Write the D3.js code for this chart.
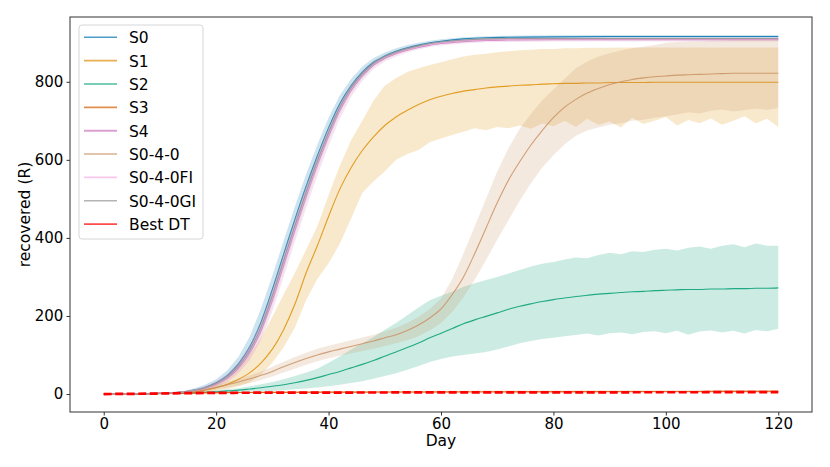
<!DOCTYPE html>
<html lang="en">
<head>
<meta charset="UTF-8">
<title>recovered (R)</title>
<script src="https://d3js.org/d3.v7.min.js"></script>
<style>
    body { margin: 0; background: #fff; }
    text { font-family: "DejaVu Sans", sans-serif; fill: #000; }
    .tick text { font-size: 15px; }
    .axis-label { font-size: 15.5px; }
    .legend text { font-size: 15.5px; }
</style>
</head>
<body>
<div id="chart"></div>
<script>
// day grids
const days = [0, 2, 4, 6, 8, 10, 12, 14, 16, 18, 20, 22, 24, 26, 28, 30, 32, 34, 36, 38,
    40, 42, 44, 46, 48, 50, 52, 54, 56, 58, 60, 62, 64, 66, 68, 70, 72, 74, 76, 78,
    80, 82, 84, 86, 88, 90, 92, 94, 96, 98, 100, 102, 104, 106, 108, 110, 112, 114, 116, 118, 120];
const daysS = [0, 4, 8, 10, 12, 14, 16, 18, 20, 22, 24, 26, 28, 30, 32, 34, 36, 38, 40, 42,
    44, 46, 48, 50, 52, 54, 56, 58, 60, 64, 68, 72, 80, 90, 100, 110, 120];
const daysLow = [0, 4, 8, 12, 16, 20, 30, 40, 50, 60, 70, 80, 90, 100, 110, 120];

const xTicks = [0, 20, 40, 60, 80, 100, 120];
const yTicks = [0, 200, 400, 600, 800];

// S0
const s0Mean = [0, 0.5, 1.2, 2, 3, 5, 10, 17, 29, 48, 78, 122, 185, 268, 358, 447, 532, 610, 682, 744,
    790, 825, 850, 866, 878, 887, 894, 900, 904, 910, 913, 914, 915, 916, 916, 916, 916];
const s0Lo = [0, 0.3, 0.8, 1.4, 2, 3.5, 7, 12, 23, 40, 68, 108, 167, 246, 336, 425, 510, 590, 664, 730,
    778, 815, 842, 859, 872, 882, 890, 896, 900, 906, 909, 910, 911, 912, 912, 912, 912];
const s0Hi = [0, 0.7, 1.6, 2.6, 4, 7, 14, 24, 38, 61, 96, 148, 220, 303, 392, 480, 563, 639, 708, 765,
    807, 839, 861, 875, 886, 894, 900, 905, 909, 914, 917, 918, 919, 920, 920, 920, 920];

// S1
const s1Mean = [0, 0.2, 0.5, 0.8, 1.2, 1.8, 2.5, 4, 6, 10,
    16, 25, 38, 55, 80, 115, 165, 230, 310, 380,
    455, 525, 580, 624, 659, 688, 710, 727, 742, 754,
    763, 770, 776, 780, 784, 787, 789, 791, 792, 794,
    795, 796, 796, 797, 797, 798, 798, 798, 798, 799,
    799, 799, 799, 799, 799, 799, 799, 799, 799, 799, 799];
const s1Lo = [0, 0.1, 0.2, 0.4, 0.6, 1, 1.4, 2, 3, 5,
    8, 13, 20, 30, 50, 80, 120, 170, 240, 295,
    335, 385, 450, 515, 545, 570, 600, 615, 625, 645,
    655, 664, 672, 681, 676, 684, 681, 688, 680, 693,
    686, 700, 684, 705, 690, 698, 683, 708, 692, 700,
    710, 688, 702, 694, 706, 690, 700, 712, 694, 705, 684];
const s1Hi = [0, 0.3, 0.8, 1.2, 1.8, 2.6, 3.6, 6, 10, 16,
    26, 42, 66, 100, 145, 198, 255, 310, 370, 430,
    510, 585, 650, 700, 752, 790, 810, 825, 835, 843,
    850, 858, 865, 869, 872, 876, 878, 881, 882, 884,
    884, 886, 886, 887, 887, 887, 888, 888, 888, 888,
    888, 888, 888, 888, 888, 888, 888, 888, 888, 888, 888];

// S2
const s2Mean = [0, 0.1, 0.3, 0.5, 0.8, 1, 1.5, 2, 3, 4.5,
    6, 8, 10, 13, 16, 20, 24, 29, 35, 42,
    50, 58, 67, 76, 86, 97, 108, 119, 131, 144,
    156, 168, 180, 190, 199, 208, 217, 225, 231, 237,
    242, 246, 250, 253, 256, 258, 260, 262, 263, 265,
    266, 267, 268, 268, 269, 269, 270, 270, 271, 271, 272];
const s2Lo = [0, 0, 0.1, 0.2, 0.4, 0.5, 0.8, 1, 1.5, 2,
    3, 4, 5, 6, 7, 8, 10, 12, 14, 17,
    20, 24, 28, 33, 39, 46, 53, 62, 72, 82,
    90, 96, 100, 104, 108, 114, 122, 130, 136, 141,
    144, 148, 151, 155, 150, 156, 158, 153, 159, 161,
    156, 162, 152, 160, 163, 158, 162, 155, 164, 161, 167];
const s2Hi = [0, 0.2, 0.5, 0.8, 1.2, 1.6, 2.2, 3, 4.5, 7,
    9, 12, 15, 20, 25, 31, 38, 46, 55, 65,
    80, 96, 114, 130, 146, 165, 182, 202, 222, 240,
    252, 262, 275, 284, 292, 300, 309, 318, 327, 334,
    338, 345, 350, 348, 356, 362, 358, 366, 364, 370,
    372, 368, 375, 378, 372, 380, 384, 376, 386, 380, 380];

// S3
const s3Mean = [0, 0.5, 1.2, 2.2, 3, 3.6, 4.3, 4.8, 5.2, 5.6, 6, 6.2, 6.4, 6.6, 6.8, 7];
const s3Lo = [0, 0.2, 0.6, 1.2, 1.8, 2.2, 2.8, 3.2, 3.5, 3.8, 4, 4.2, 4.3, 4.4, 4.5, 4.6];
const s3Hi = [0, 0.8, 1.8, 3.2, 4.4, 5.2, 6.3, 7.2, 7.8, 8.4, 9, 9.4, 9.7, 10, 10.2, 10.4];

// S4
const s4Mean = [0, 0.5, 1.2, 2, 3, 4.5, 8.5, 15, 25, 41, 67, 106, 163, 240, 330, 420, 506, 587, 661, 727,
    778, 815, 843, 860, 872, 881, 888, 894, 898, 903, 906, 907, 908, 908, 908, 908, 908];
const s4Lo = [0, 0.3, 0.8, 1.4, 2, 3, 6, 10, 18, 31, 53, 87, 139, 212, 300, 390, 476, 559, 636, 706,
    761, 802, 833, 852, 865, 875, 883, 889, 893, 898, 901, 902, 903, 903, 903, 903, 903];
const s4Hi = [0, 0.7, 1.6, 2.6, 4, 6, 11, 19, 31, 50, 80, 122, 183, 262, 352, 442, 527, 606, 678, 741,
    789, 824, 850, 866, 877, 886, 892, 898, 902, 907, 910, 911, 912, 912, 912, 912, 912];

// S0-4-0
const s040Mean = [0, 0.2, 0.5, 0.8, 1.2, 2, 3, 4, 6, 11,
    17, 24, 31, 39, 48, 58, 70, 81, 91, 100,
    108, 115, 122, 129, 136, 144, 152, 163, 177, 195,
    218, 255, 300, 360, 425, 490, 548, 595, 638, 675,
    708, 735, 755, 771, 783, 793, 800, 806, 810, 813,
    815, 817, 818, 819, 820, 821, 822, 822, 822, 822, 822];
const s040Lo = [0, 0, 0.1, 0.2, 0.4, 0.7, 1, 2, 3, 6,
    11, 16, 22, 28, 36, 45, 55, 65, 75, 84,
    92, 98, 104, 110, 116, 123, 130, 138, 148, 163,
    182, 210, 248, 293, 343, 395, 445, 495, 540, 580,
    612, 640, 662, 675, 683, 690, 694, 700, 703, 708,
    712, 716, 722, 719, 726, 729, 724, 728, 731, 728, 733];
const s040Hi = [0, 0.4, 0.9, 1.4, 2, 3.2, 5, 7, 11, 17,
    24, 31, 39, 48, 58, 70, 83, 95, 106, 116,
    124, 131, 138, 145, 152, 160, 170, 182, 198, 218,
    245, 295, 360, 430, 500, 570, 630, 680, 718, 752,
    780, 808, 835, 852, 865, 873, 880, 886, 890, 894,
    900, 902, 903, 904, 905, 906, 907, 907, 908, 908, 909];

// S0-4-0FI
const fiMean = [0, 0.5, 1.2, 2, 3, 5, 9, 15.5, 26, 43, 70, 110, 168, 247, 337, 426, 512, 592, 666, 731,
    781, 818, 845, 862, 874, 883, 890, 896, 900, 905, 908, 909, 910, 910, 910, 910, 910];
const fiLo = [0, 0.3, 0.8, 1.4, 2, 3.5, 6.5, 11.5, 20, 35, 59, 96, 151, 227, 316, 406, 492, 574, 650, 718,
    771, 810, 839, 857, 870, 879, 887, 893, 897, 902, 905, 906, 907, 907, 907, 907, 907];
const fiHi = [0, 0.7, 1.6, 2.6, 4, 6.5, 11.5, 20, 32, 51, 81, 124, 185, 267, 358, 446, 532, 610, 682, 744,
    791, 826, 851, 867, 878, 887, 893, 899, 903, 908, 911, 912, 913, 913, 913, 913, 913];

// S0-4-0GI
const giMean = [0, 0.5, 1.2, 2, 3, 5, 9, 16, 27, 44, 72, 113, 172, 252, 342, 431, 517, 597, 670, 735,
    784, 820, 847, 864, 876, 885, 892, 898, 902, 907, 910, 911, 911, 911, 911, 911, 911];
const giLo = [0, 0.3, 0.8, 1.4, 2, 3.5, 7, 12, 22, 37, 63, 101, 156, 233, 322, 411, 497, 579, 654, 722,
    773, 811, 840, 858, 871, 881, 888, 895, 899, 904, 907, 908, 908, 908, 908, 908, 908];
const giHi = [0, 0.7, 1.6, 2.6, 4, 6.5, 11, 20, 32, 51, 81, 125, 188, 271, 362, 451, 537, 615, 686, 748,
    795, 829, 854, 870, 881, 889, 896, 901, 905, 910, 913, 914, 914, 914, 914, 914, 914];

// Best DT
const bestMean = [0, 0.4, 1, 1.8, 2.5, 3, 3.5, 3.8, 4, 4.2, 4.3, 4.4, 4.5, 4.6, 4.7, 4.8];
const bestLo = [0, 0.2, 0.6, 1.2, 1.8, 2.2, 2.6, 2.9, 3.1, 3.3, 3.4, 3.5, 3.6, 3.7, 3.8, 3.9];
const bestHi = [0, 0.6, 1.4, 2.4, 3.2, 3.8, 4.4, 4.7, 4.9, 5.1, 5.2, 5.3, 5.4, 5.5, 5.6, 5.7];

const names = ["S0", "S1", "S2", "S3", "S4", "S0-4-0", "S0-4-0FI", "S0-4-0GI", "Best DT"];
const colors = ["#0173b2", "#de8f05", "#029e73", "#d55e00", "#cc78bc", "#ca9161", "#fbafe4", "#949494", "#ff0000"];

const series = [
    { days: daysS, mean: s0Mean, lo: s0Lo, hi: s0Hi },
    { days: days, mean: s1Mean, lo: s1Lo, hi: s1Hi },
    { days: days, mean: s2Mean, lo: s2Lo, hi: s2Hi },
    { days: daysLow, mean: s3Mean, lo: s3Lo, hi: s3Hi },
    { days: daysS, mean: s4Mean, lo: s4Lo, hi: s4Hi },
    { days: days, mean: s040Mean, lo: s040Lo, hi: s040Hi },
    { days: daysS, mean: fiMean, lo: fiLo, hi: fiHi },
    { days: daysS, mean: giMean, lo: giLo, hi: giHi },
    { days: daysLow, mean: bestMean, lo: bestLo, hi: bestHi }
].map((s, i) => ({
    name: names[i],
    color: colors[i],
    points: s.days.map((d, j) => ({ day: d, mean: s.mean[j], lo: s.lo[j], hi: s.hi[j] }))
}));

const width = 830, height = 467;
const margin = { top: 17, right: 18, bottom: 55, left: 70 };

const svg = d3.select("#chart")
    .append("svg")
    .attr("width", width)
    .attr("height", height);

const x = d3.scaleLinear()
    .domain([-6, 126])
    .range([margin.left, width - margin.right]);

const y = d3.scaleLinear()
    .domain([-46, 966])
    .range([height - margin.bottom, margin.top]);

svg.append("clipPath")
    .attr("id", "plot-clip")
    .append("rect")
    .attr("x", margin.left)
    .attr("y", margin.top)
    .attr("width", width - margin.left - margin.right)
    .attr("height", height - margin.top - margin.bottom);

const plot = svg.append("g").attr("clip-path", "url(#plot-clip)");

const band = d3.area()
    .x(d => x(d.day))
    .y0(d => y(d.lo))
    .y1(d => y(d.hi));

const line = d3.line()
    .x(d => x(d.day))
    .y(d => y(d.mean))
    .curve(d3.curveMonotoneX);

// bands and mean lines, in legend order
series.forEach(s => {
    plot.append("path")
        .datum(s.points)
        .attr("d", band)
        .attr("fill", s.color)
        .attr("fill-opacity", 0.2)
        .attr("stroke", "none");

    const isBest = s.name === "Best DT";
    plot.append("path")
        .datum(s.points)
        .attr("d", line)
        .attr("fill", "none")
        .attr("stroke", s.color)
        .attr("stroke-opacity", isBest ? 1 : 0.85)
        .attr("stroke-width", isBest ? 2.7 : 1.1)
        .attr("stroke-dasharray", isBest ? "8,3.5" : null);
});

// axes
const xAxis = svg.append("g")
    .attr("transform", `translate(0,${height - margin.bottom})`)
    .call(d3.axisBottom(x).tickValues(xTicks).tickSize(3.5).tickPadding(3));

const yAxis = svg.append("g")
    .attr("transform", `translate(${margin.left},0)`)
    .call(d3.axisLeft(y).tickValues(yTicks).tickSize(3.5).tickPadding(3.2));

[xAxis, yAxis].forEach(a => {
    a.select(".domain").remove();
    a.selectAll(".tick line").attr("stroke", "#333");
    a.selectAll(".tick text").attr("font-family", null).attr("font-size", null);
});

// frame
svg.append("rect")
    .attr("x", margin.left)
    .attr("y", margin.top)
    .attr("width", width - margin.left - margin.right)
    .attr("height", height - margin.top - margin.bottom)
    .attr("fill", "none")
    .attr("stroke", "#333")
    .attr("stroke-width", 1);

svg.append("text")
    .attr("class", "axis-label")
    .attr("x", (margin.left + width - margin.right) / 2)
    .attr("y", 446)
    .attr("text-anchor", "middle")
    .text("Day");

svg.append("text")
    .attr("class", "axis-label")
    .attr("transform", `translate(30,${(margin.top + height - margin.bottom) / 2}) rotate(-90)`)
    .attr("text-anchor", "middle")
    .text("recovered (R)");

// legend
const legend = svg.append("g").attr("class", "legend");

legend.append("rect")
    .attr("x", 79)
    .attr("y", 25)
    .attr("width", 124)
    .attr("height", 214)
    .attr("rx", 3)
    .attr("fill", "#fff")
    .attr("fill-opacity", 0.8)
    .attr("stroke", "#d6d6d6");

const rowH = 23.35;
series.forEach((s, i) => {
    const ly = 37.3 + i * rowH;
    legend.append("line")
        .attr("x1", 84)
        .attr("x2", 117)
        .attr("y1", ly)
        .attr("y2", ly)
        .attr("stroke", s.color)
        .attr("stroke-opacity", 0.7)
        .attr("stroke-width", s.name === "S4" ? 2 : 1.6);
    legend.append("text")
        .attr("x", 129)
        .attr("y", ly + 6)
        .text(s.name);
});
</script>
</body>
</html>
